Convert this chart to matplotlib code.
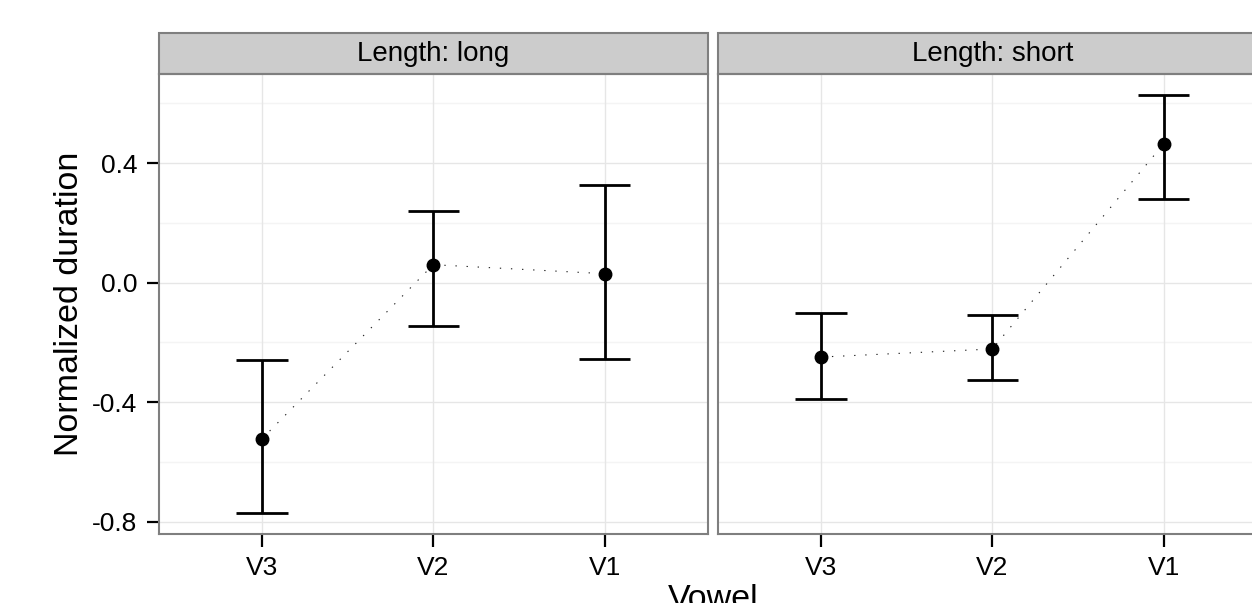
import numpy as np
import matplotlib
matplotlib.use("Agg")
import matplotlib.pyplot as plt
from matplotlib.patches import Rectangle

plt.rcParams['font.family'] = ['Liberation Sans', 'DejaVu Sans']

# data
vowels = ["V3", "V2", "V1"]
panels = ["Length: long", "Length: short"]
means = {
    "Length: long": [-0.523, 0.060, 0.030],
    "Length: short": [-0.249, -0.222, 0.464],
}
upper = {
    "Length: long": [-0.260, 0.241, 0.326],
    "Length: short": [-0.100, -0.107, 0.628],
}
lower = {
    "Length: long": [-0.771, -0.144, -0.254],
    "Length: short": [-0.389, -0.327, 0.280],
}
y_ticks = [-0.8, -0.4, 0.0, 0.4]
y_minor = [-0.6, -0.2, 0.2, 0.6]

W, H = 1252, 603
fig = plt.figure(figsize=(W / 100, H / 100), dpi=100)

# panel geometry in pixels (the right panel runs past the image edge)
panel_x = [159, 718]
panel_w = 548.5
panel_top, panel_bot = 74, 534
strip_h = 40.7

# ggplot style 5% expansion of the y range
lo = min(min(v) for v in lower.values())
hi = max(max(v) for v in upper.values())
pad = (hi - lo) * 0.05
ylim = (lo - pad, hi + pad)

x = np.arange(len(vowels))
border = "#7f7f7f"

for i, name in enumerate(panels):
    ax = fig.add_axes([panel_x[i] / W, (H - panel_bot) / H,
                       panel_w / W, (panel_bot - panel_top) / H])
    ax.set_xlim(-0.6, len(vowels) - 0.4)
    ax.set_ylim(*ylim)

    # grid
    for yv in y_minor:
        ax.axhline(yv, color="#f4f4f4", lw=1.0, zorder=0)
    for yv in y_ticks:
        ax.axhline(yv, color="#e6e6e6", lw=1.0, zorder=0)
    for xv in x:
        ax.axvline(xv, color="#e6e6e6", lw=1.0, zorder=0)

    m = np.array(means[name])
    up = np.array(upper[name])
    dn = np.array(lower[name])
    ax.plot(x, m, color="#222222", lw=0.8, dashes=(1.2, 8.8), zorder=2)
    ax.vlines(x, dn, up, color="black", lw=2.0, zorder=3)
    ax.hlines(up, x - 0.15, x + 0.15, color="black", lw=2.0, zorder=3)
    ax.hlines(dn, x - 0.15, x + 0.15, color="black", lw=2.0, zorder=3)
    ax.plot(x, m, "o", color="black", ms=9, zorder=4)

    ax.set_xticks(x)
    ax.set_xticklabels(vowels)
    ax.tick_params(axis="x", length=9, width=1.6, pad=7, labelsize=19,
                   colors="black")
    if i == 0:
        ax.set_yticks(y_ticks)
        ax.set_yticklabels([f"{v:.1f}" for v in y_ticks])
        ax.tick_params(axis="y", length=9, width=1.6, pad=6.5, labelsize=19,
                       colors="black")
    else:
        ax.set_yticks([])

    for s in ax.spines.values():
        s.set_color(border)
        s.set_linewidth(1.5)

    # facet strip
    sh = strip_h / (panel_bot - panel_top)
    ax.add_patch(Rectangle((0, 1), 1, sh, transform=ax.transAxes,
                           clip_on=False, facecolor="#cccccc",
                           edgecolor=border, lw=1.5))
    ax.text(0.5, 1 + sh / 2, name, transform=ax.transAxes, ha="center",
            va="center", fontsize=20, color="black")

fig.text(70 / W, (H - (panel_top + panel_bot) / 2) / H, "Normalized duration",
         rotation=90, ha="center", va="center", fontsize=24.5)
fig.text(713 / W, -5 / H, "Vowel", ha="center", va="baseline", fontsize=24.5)

fig.savefig("out.png", dpi=100)
